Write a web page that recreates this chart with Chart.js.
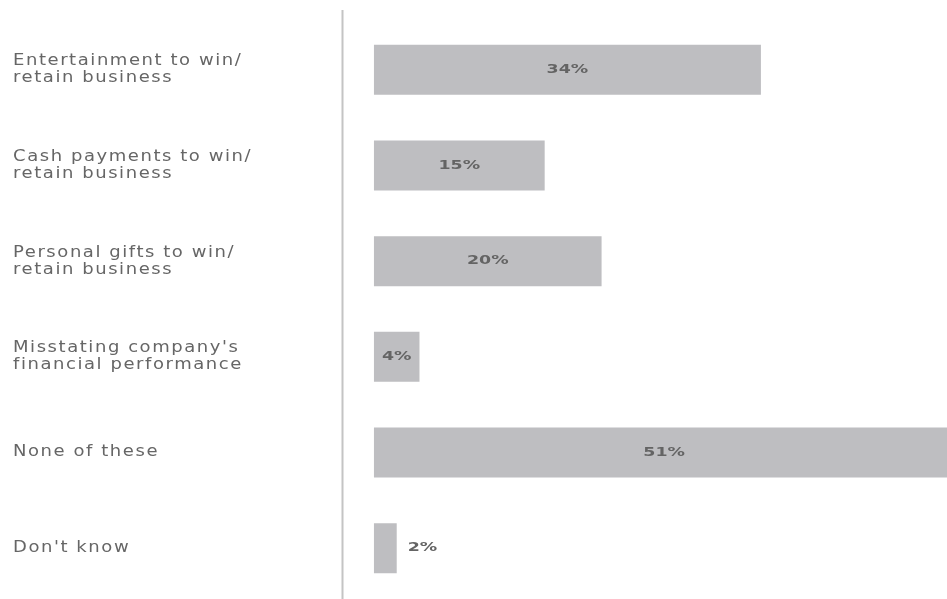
<!DOCTYPE html>
<html>
<head>
<meta charset="utf-8">
<script src="https://cdn.jsdelivr.net/npm/chart.js@4/dist/chart.umd.min.js"></script>
<style>
    html, body { margin: 0; padding: 0; background: #fff; }
</style>
</head>
<body>
<canvas id="barras" width="947" height="599"></canvas>
<script>
//Datos
const categorias = [
    ['Entertainment to win/', 'retain business'],
    ['Cash payments to win/', 'retain business'],
    ['Personal gifts to win/', 'retain business'],
    ["Misstating company's", 'financial performance'],
    'None of these',
    "Don't know"
];
const porcentajes = [34, 15, 20, 4, 51, 2];

//Texto ensanchado del eje (la fuente original es muy ancha)
const anchoEje = 1.2;
const ensanchar = {
    id: 'ensanchar',
    beforeDraw(chart) {
        const ctx = chart.ctx;
        const izq = chart.scales.y.left;
        ctx.letterSpacing = '1.3px';
        ctx.setTransform(anchoEje, 0, 0, 1, izq * (1 - anchoEje), 0);
    },
    beforeDatasetsDraw(chart) {
        const ctx = chart.ctx;
        ctx.setTransform(1, 0, 0, 1, 0, 0);
        ctx.letterSpacing = '0px';
    }
};

//Linea vertical separadora
const separador = {
    id: 'separador',
    beforeDatasetsDraw(chart) {
        const ctx = chart.ctx;
        const x = chart.chartArea.left - 0.5;
        ctx.save();
        ctx.strokeStyle = '#c4c4c4';
        ctx.lineWidth = 2;
        ctx.beginPath();
        ctx.moveTo(x, 10);
        ctx.lineTo(x, chart.height);
        ctx.stroke();
        ctx.restore();
    }
};

//Etiquetas de porcentaje
const estirar = 1.45;
const etiquetas = {
    id: 'etiquetas',
    afterDatasetsDraw(chart) {
        const ctx = chart.ctx;
        const meta = chart.getDatasetMeta(0);
        ctx.save();
        ctx.font = 'bold 12px "DejaVu Sans"';
        ctx.fillStyle = '#646464';
        ctx.textBaseline = 'middle';
        meta.data.forEach((bar, i) => {
            const texto = porcentajes[i] + '%';
            const ancho = ctx.measureText(texto).width * estirar;
            const largo = bar.x - bar.base;
            ctx.save();
            if (ancho + 4 < largo) {
                ctx.textAlign = 'center';
                ctx.translate((bar.x + bar.base) / 2, bar.y);
            } else {
                ctx.textAlign = 'left';
                ctx.translate(bar.x + 11, bar.y);
            }
            ctx.scale(estirar, 1);
            ctx.fillText(texto, 0, 0);
            ctx.restore();
        });
        ctx.restore();
    }
};

const barras = document.getElementById('barras');

new Chart(barras, {
    type: 'bar',
    data: {
        labels: categorias,
        datasets: [{
            data: porcentajes,
            backgroundColor: '#bebec1',
            categoryPercentage: 1,
            barPercentage: 0.523
        }]
    },
    options: {
        indexAxis: 'y',
        responsive: false,
        animation: false,
        layout: {
            padding: { left: 13, top: 22, bottom: 3, right: 0 }
        },
        plugins: {
            legend: { display: false },
            tooltip: { enabled: false }
        },
        scales: {
            x: {
                display: false,
                min: -2.72,
                max: 50.35
            },
            y: {
                grid: { display: false },
                border: { display: false },
                afterFit(scale) {
                    scale.width = 330;
                    scale.paddingTop = 0;
                    scale.paddingBottom = 0;
                },
                ticks: {
                    crossAlign: 'far',
                    color: '#666666',
                    font: {
                        family: '"DejaVu Sans"',
                        size: 15,
                        lineHeight: 1.13
                    }
                }
            }
        }
    },
    plugins: [ensanchar, separador, etiquetas]
});
</script>
</body>
</html>
